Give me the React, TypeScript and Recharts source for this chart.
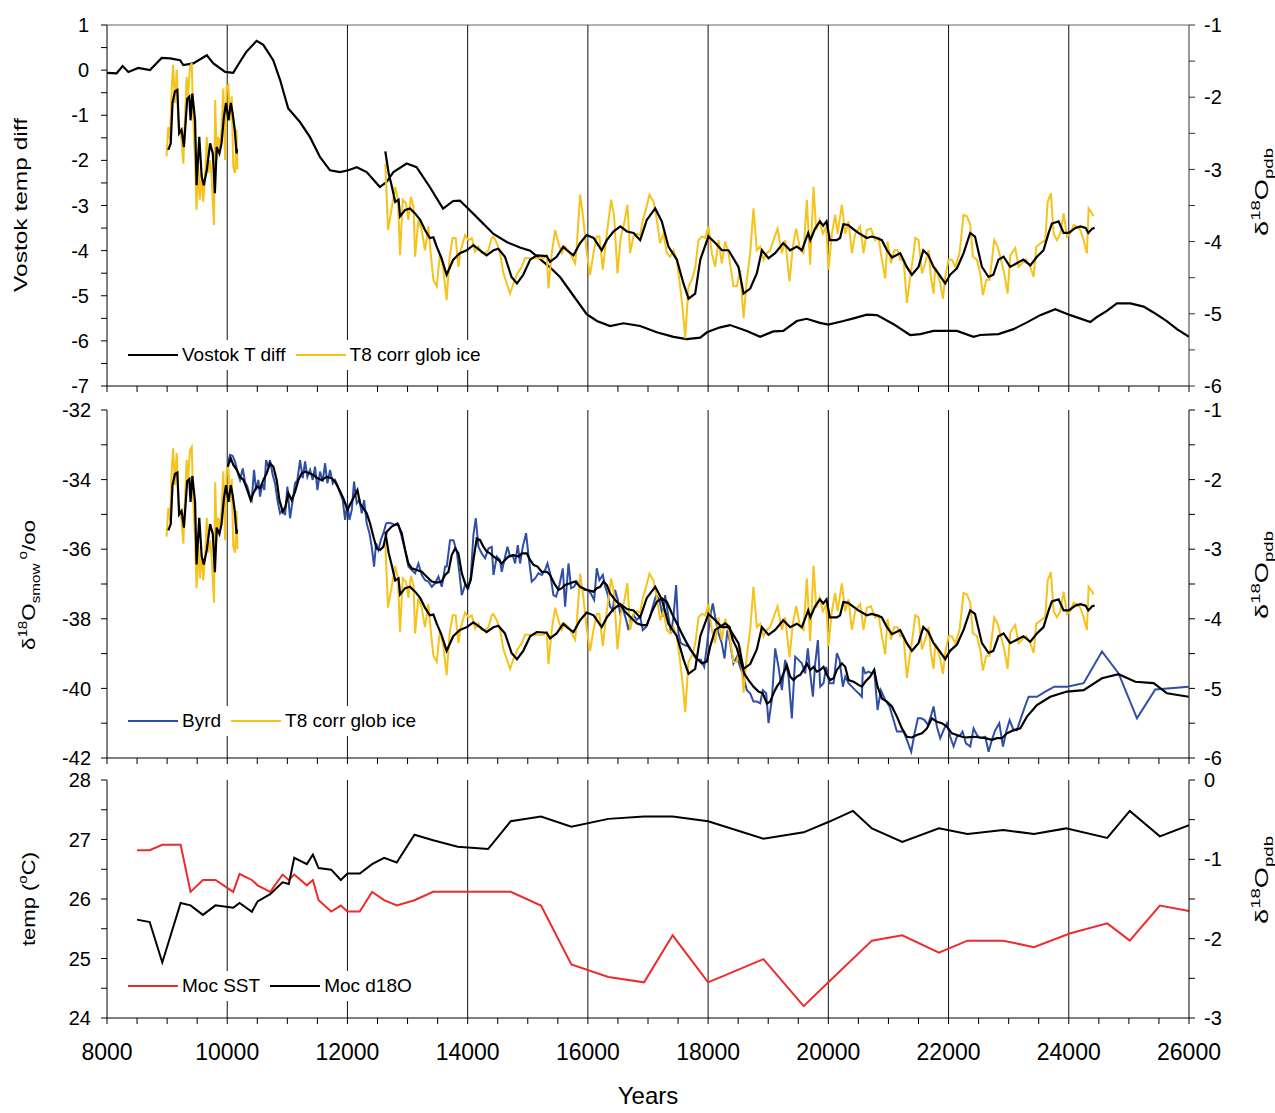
import React from "react";
import { Legend, Line, LineChart, ReferenceLine, XAxis, YAxis } from "recharts";

type Pt = [number, number];

const FONT = '"Liberation Sans", Arial, Helvetica, sans-serif';

// axis ticks
const xLabelYears = [8000, 10000, 12000, 14000, 16000, 18000, 20000, 22000, 24000, 26000];
const gridYears = [10000, 12000, 14000, 16000, 18000, 20000, 22000, 24000];
const steps = (from: number, to: number, step: number) => {
  const out: number[] = [];
  for (let v = from; v <= to + 1e-9; v += step) out.push(Math.round(v * 100) / 100);
  return out;
};
const xTicks = steps(8000, 26000, 500);

// Vostok temperature difference (deg C)
const vostok: Pt[] = [
  [8000, -0.06], [8160, -0.07], [8260, 0.09], [8355, -0.04], [8520, 0.05], [8715, 0.0], [8910, 0.27],
  [9050, 0.26], [9215, 0.22], [9270, 0.11], [9435, 0.15], [9660, 0.33], [9770, 0.15], [9965, -0.04],
  [10100, -0.06], [10210, 0.18], [10320, 0.41], [10490, 0.65], [10600, 0.56], [10765, 0.22], [10880, -0.22],
  [11015, -0.85], [11210, -1.15], [11375, -1.48], [11545, -1.93], [11710, -2.22], [11875, -2.26], [12015, -2.22],
  [12155, -2.15], [12320, -2.26], [12540, -2.59], [12650, -2.48], [12765, -2.26], [12985, -2.07], [13150, -2.15],
  [13370, -2.59], [13590, -3.07], [13760, -2.9], [13870, -2.89], [13985, -3.04], [14205, -3.33], [14430, -3.63],
  [14650, -3.81], [14870, -3.93], [15040, -4.0], [15205, -4.19], [15370, -4.37], [15540, -4.59], [15760, -5.0],
  [15980, -5.41], [16150, -5.56], [16370, -5.67], [16590, -5.61], [16870, -5.67], [17145, -5.81], [17425, -5.91],
  [17645, -5.96], [17870, -5.93], [17980, -5.81], [18200, -5.7], [18365, -5.65], [18645, -5.78], [18865, -5.91],
  [19085, -5.79], [19250, -5.78], [19475, -5.56], [19640, -5.51], [19860, -5.6], [20000, -5.64], [20250, -5.56],
  [20420, -5.5], [20640, -5.42], [20810, -5.43], [21085, -5.63], [21360, -5.87], [21530, -5.85], [21750, -5.78],
  [22140, -5.78], [22415, -5.91], [22525, -5.87], [22830, -5.85], [23080, -5.74], [23305, -5.59], [23525, -5.43],
  [23775, -5.3], [24025, -5.43], [24360, -5.58], [24470, -5.47], [24640, -5.33], [24800, -5.17], [25025, -5.17],
  [25245, -5.24], [25410, -5.37], [25630, -5.56], [25800, -5.74], [26000, -5.91],
];

// T8 corrected for global ice (d18O pdb), early and late sections
const t8Early: Pt[] = [
  [8990, -2.82], [9020, -2.41], [9050, -2.59], [9075, -1.9], [9100, -1.55], [9130, -2.08], [9160, -1.62],
  [9185, -2.27], [9215, -2.5], [9240, -2.59], [9270, -2.92], [9295, -2.32], [9325, -1.72], [9350, -1.99],
  [9380, -1.58], [9410, -1.53], [9435, -2.32], [9465, -2.87], [9490, -3.56], [9520, -2.96], [9545, -3.42],
  [9575, -3.05], [9600, -3.45], [9630, -3.15], [9660, -2.55], [9685, -3.05], [9715, -2.87], [9740, -3.1],
  [9780, -3.77], [9800, -2.04], [9825, -2.87], [9850, -2.55], [9880, -2.69], [9905, -2.45], [9935, -1.88],
  [9965, -2.87], [9990, -1.85], [10020, -1.83], [10045, -2.32], [10075, -1.99], [10100, -2.96], [10130, -3.05],
  [10155, -2.45], [10170, -3.0],
];
const t8Late: Pt[] = [
  [12630, -2.92], [12675, -3.84], [12740, -3.52], [12795, -3.24], [12840, -3.42], [12875, -4.19], [12920, -3.42],
  [12975, -3.47], [13015, -3.7], [13055, -3.38], [13100, -3.52], [13125, -4.21], [13180, -3.7], [13235, -3.84],
  [13290, -4.12], [13345, -3.79], [13385, -4.16], [13430, -4.53], [13485, -4.62], [13540, -4.16], [13595, -4.39],
  [13650, -4.81], [13700, -4.21], [13750, -3.95], [13800, -3.95], [13846, -4.35], [13885, -4.12], [13957, -3.91],
  [14012, -3.98], [14068, -3.95], [14123, -4.14], [14179, -4.07], [14234, -4.16], [14290, -4.16], [14345, -4.12],
  [14401, -3.95], [14429, -3.93], [14484, -4.02], [14539, -4.16], [14595, -4.44], [14650, -4.58], [14706, -4.72],
  [14761, -4.58], [14828, -4.44], [14900, -4.35], [14955, -4.23], [15039, -4.23], [15150, -4.23], [15261, -4.23],
  [15316, -4.19], [15344, -4.65], [15399, -4.16], [15455, -3.84], [15510, -4.02], [15566, -4.16], [15621, -4.07],
  [15677, -4.12], [15732, -4.21], [15788, -4.3], [15815, -4.07], [15871, -3.35], [15926, -3.7], [15982, -4.16],
  [16037, -4.46], [16093, -4.16], [16148, -3.93], [16192, -3.93], [16248, -4.39], [16315, -3.89], [16387, -3.42],
  [16437, -3.65], [16492, -4.44], [16548, -3.93], [16603, -3.75], [16658, -3.49], [16703, -4.16], [16758, -3.93],
  [16814, -3.89], [16869, -3.91], [16914, -3.7], [16969, -3.54], [17025, -3.35], [17091, -3.45], [17147, -3.7],
  [17202, -4.02], [17258, -3.89], [17313, -4.16], [17368, -4.21], [17424, -4.12], [17479, -4.25], [17535, -4.62],
  [17579, -4.95], [17618, -5.34], [17674, -4.62], [17729, -4.53], [17784, -4.37], [17840, -3.98], [17895, -3.93],
  [17951, -3.95], [18006, -3.79], [18062, -4.16], [18117, -4.35], [18173, -3.98], [18228, -4.3], [18284, -4.0],
  [18339, -4.16], [18422, -4.62], [18478, -4.62], [18533, -4.39], [18589, -5.06], [18644, -4.53], [18700, -4.16],
  [18755, -3.54], [18811, -4.12], [18866, -4.07], [18922, -4.25], [18977, -4.16], [19033, -4.12], [19088, -3.98],
  [19155, -3.82], [19227, -4.16], [19282, -3.98], [19354, -4.55], [19410, -4.07], [19465, -3.82], [19532, -4.12],
  [19587, -4.16], [19643, -3.42], [19698, -4.32], [19754, -3.24], [19798, -3.84], [19854, -3.7], [19909, -3.89],
  [19965, -3.79], [20003, -4.39], [20059, -3.89], [20114, -3.63], [20153, -3.89], [20225, -3.49], [20281, -3.89],
  [20336, -3.72], [20392, -4.16], [20447, -3.89], [20530, -3.79], [20586, -4.16], [20641, -3.84], [20708, -3.82],
  [20780, -3.98], [20836, -3.95], [20891, -4.25], [20946, -4.51], [20985, -4.0], [21041, -4.3], [21096, -4.12],
  [21152, -4.12], [21196, -4.25], [21252, -4.25], [21307, -4.85], [21363, -4.49], [21418, -4.16], [21446, -3.95],
  [21501, -3.98], [21557, -4.44], [21612, -4.3], [21668, -4.12], [21706, -4.49], [21751, -4.72], [21779, -4.35],
  [21817, -4.44], [21862, -4.58], [21906, -4.79], [21945, -4.49], [22000, -4.25], [22056, -4.25], [22111, -4.35],
  [22183, -4.16], [22250, -3.63], [22306, -3.65], [22361, -3.77], [22405, -4.21], [22472, -4.25], [22527, -4.44],
  [22572, -4.74], [22627, -4.53], [22683, -4.53], [22760, -3.98], [22816, -4.07], [22871, -4.25], [22927, -4.44],
  [22982, -4.72], [23027, -4.19], [23110, -4.09], [23165, -4.35], [23221, -4.3], [23293, -4.25], [23359, -4.35],
  [23415, -4.49], [23459, -4.07], [23537, -4.02], [23609, -3.98], [23648, -3.45], [23703, -3.33], [23748, -3.89],
  [23803, -3.98], [23859, -3.89], [23914, -3.61], [23970, -3.93], [24025, -3.89], [24081, -3.77], [24136, -3.79],
  [24192, -3.84], [24247, -3.98], [24302, -4.16], [24330, -3.54], [24386, -3.61], [24413, -3.65],
];

// running mean of T8
const t8SmoothEarly: Pt[] = [
  [9020, -2.73], [9060, -2.64], [9090, -2.08], [9130, -1.92], [9170, -1.9], [9200, -2.5], [9240, -2.45],
  [9280, -2.69], [9310, -2.32], [9335, -2.02], [9370, -1.99], [9390, -2.32], [9420, -1.95], [9465, -2.32],
  [9490, -3.22], [9535, -2.55], [9575, -3.1], [9610, -3.22], [9660, -3.01], [9715, -2.64], [9760, -2.78],
  [9795, -3.33], [9825, -2.69], [9870, -2.78], [9905, -2.64], [9945, -2.27], [9980, -2.08], [10020, -2.32],
  [10060, -2.08], [10090, -2.22], [10125, -2.45], [10155, -2.78], [10165, -2.72],
];
const t8SmoothLate: Pt[] = [
  [12630, -2.75], [12685, -3.05], [12740, -3.24], [12795, -3.45], [12850, -3.42], [12875, -3.65], [12960, -3.56],
  [13040, -3.54], [13125, -3.61], [13210, -3.7], [13290, -3.84], [13370, -3.95], [13430, -3.94], [13485, -4.07],
  [13565, -4.23], [13650, -4.46], [13760, -4.25], [13870, -4.16], [13985, -4.12], [14095, -4.05], [14205, -4.12],
  [14315, -4.19], [14430, -4.12], [14510, -4.1], [14620, -4.21], [14730, -4.49], [14820, -4.58], [14925, -4.46],
  [15040, -4.25], [15150, -4.19], [15315, -4.2], [15370, -4.28], [15480, -4.21], [15590, -4.07], [15650, -4.12],
  [15760, -4.19], [15870, -4.02], [15980, -3.91], [16095, -3.95], [16230, -4.12], [16315, -3.98], [16425, -3.86],
  [16540, -3.79], [16650, -3.86], [16760, -3.88], [16870, -3.98], [16980, -3.7], [17120, -3.54], [17230, -3.72],
  [17340, -4.07], [17480, -4.25], [17590, -4.58], [17675, -4.79], [17785, -4.72], [17870, -4.25], [18005, -3.93],
  [18120, -4.02], [18230, -4.12], [18340, -4.12], [18505, -4.35], [18590, -4.72], [18700, -4.65], [18810, -4.44],
  [18895, -4.12], [19005, -4.23], [19115, -4.16], [19250, -4.02], [19365, -4.12], [19475, -4.07], [19560, -4.12],
  [19665, -3.88], [19700, -3.98], [19780, -3.82], [19860, -3.72], [19915, -3.78], [19970, -3.72], [20025, -3.98],
  [20140, -3.98], [20195, -3.95], [20250, -3.76], [20330, -3.77], [20420, -3.83], [20500, -3.88], [20640, -3.95],
  [20720, -3.93], [20810, -3.95], [20890, -3.98], [20975, -4.12], [21060, -4.22], [21195, -4.16], [21305, -4.35],
  [21390, -4.46], [21500, -4.35], [21580, -4.12], [21665, -4.19], [21750, -4.35], [21830, -4.44], [21945, -4.58],
  [22025, -4.46], [22140, -4.37], [22250, -4.16], [22360, -3.88], [22440, -3.93], [22555, -4.35], [22665, -4.49],
  [22745, -4.46], [22830, -4.25], [22915, -4.21], [23025, -4.35], [23135, -4.3], [23245, -4.25], [23360, -4.33],
  [23470, -4.21], [23580, -4.12], [23665, -3.88], [23720, -3.75], [23830, -3.72], [23915, -3.88], [24000, -3.88],
  [24110, -3.81], [24195, -3.79], [24280, -3.81], [24325, -3.88], [24390, -3.82], [24430, -3.81],
];

// Byrd d18O smow (per mil)
const byrd: Pt[] = [
  [10008, -33.53], [10047, -33.29], [10091, -33.32], [10130, -33.48], [10169, -33.77], [10213, -34.01],
  [10258, -33.68], [10296, -34.06], [10335, -34.2], [10380, -34.49], [10407, -34.59], [10446, -33.72],
  [10480, -34.3], [10518, -34.01], [10546, -34.49], [10585, -34.11], [10618, -34.3], [10646, -33.44],
  [10685, -33.63], [10712, -33.44], [10757, -33.87], [10796, -34.11], [10835, -34.59], [10879, -34.97],
  [10923, -34.87], [10962, -35.02], [11001, -34.2], [11045, -35.11], [11090, -34.59], [11128, -34.11],
  [11167, -34.01], [11212, -33.44], [11256, -33.96], [11295, -33.48], [11334, -33.92], [11378, -33.72],
  [11422, -34.01], [11461, -33.63], [11500, -34.3], [11544, -33.77], [11589, -34.06], [11628, -33.53],
  [11667, -34.11], [11711, -33.72], [11755, -34.11], [11794, -34.01], [11833, -34.16], [11878, -34.39],
  [11922, -34.59], [11961, -35.16], [12000, -34.68], [12033, -35.16], [12072, -34.87], [12110, -34.06],
  [12155, -34.68], [12199, -34.59], [12238, -34.97], [12277, -34.59], [12321, -35.26], [12366, -35.54],
  [12404, -35.93], [12443, -36.5], [12476, -35.83], [12515, -36.02], [12554, -35.74], [12598, -35.54],
  [12643, -35.26], [12682, -35.24], [12737, -35.26], [12793, -35.3], [12848, -35.3], [12903, -35.64],
  [12959, -36.02], [13014, -36.5], [13070, -36.6], [13125, -36.69], [13181, -36.41], [13236, -36.74],
  [13292, -36.89], [13347, -36.93], [13403, -37.08], [13458, -36.98], [13514, -36.79], [13569, -37.08],
  [13625, -36.5], [13652, -36.5], [13707, -35.74], [13763, -35.74], [13818, -36.07], [13863, -36.69],
  [13902, -37.32], [13957, -37.03], [14012, -37.12], [14051, -36.79], [14096, -35.59], [14135, -35.11],
  [14179, -35.93], [14234, -36.12], [14290, -36.26], [14345, -35.98], [14401, -35.93], [14429, -36.74],
  [14484, -36.21], [14539, -36.31], [14567, -36.65], [14623, -36.21], [14662, -35.93], [14706, -36.21],
  [14750, -36.17], [14789, -36.41], [14834, -35.88], [14872, -36.41], [14917, -35.93], [14972, -35.54],
  [15011, -36.17], [15066, -36.93], [15122, -36.84], [15177, -36.69], [15233, -36.74], [15288, -36.6],
  [15327, -36.41], [15371, -36.69], [15427, -37.32], [15471, -37.36], [15527, -37.03], [15582, -36.55],
  [15621, -37.65], [15677, -36.41], [15721, -37.12], [15771, -37.08], [15815, -36.93], [15871, -37.08],
  [15937, -37.17], [15993, -37.17], [16048, -37.27], [16104, -37.46], [16148, -36.55], [16192, -36.89],
  [16248, -36.74], [16287, -37.08], [16326, -37.27], [16370, -37.65], [16414, -37.75], [16453, -37.17],
  [16498, -37.46], [16536, -37.84], [16581, -37.7], [16636, -38.03], [16675, -38.32], [16714, -38.03],
  [16758, -37.89], [16814, -38.03], [16869, -37.94], [16914, -38.32], [16969, -38.23], [17025, -37.99],
  [17080, -37.65], [17135, -37.32], [17191, -37.46], [17246, -37.94], [17285, -37.32], [17330, -37.84],
  [17385, -38.42], [17424, -37.94], [17468, -37.03], [17507, -38.42], [17546, -38.7], [17601, -38.75],
  [17674, -38.8], [17740, -38.99], [17812, -39.18], [17879, -39.18], [17934, -39.38], [17979, -38.8],
  [18034, -37.94], [18078, -37.56], [18117, -37.94], [18173, -38.42], [18228, -38.7], [18273, -39.14],
  [18322, -38.32], [18367, -38.7], [18422, -39.28], [18478, -39.09], [18533, -39.38], [18589, -39.66],
  [18644, -40.05], [18700, -40.14], [18755, -40.38], [18811, -40.38], [18866, -40.43], [18910, -40.05],
  [18966, -40.14], [19005, -41.0], [19060, -40.33], [19116, -38.85], [19171, -39.38], [19227, -40.05],
  [19282, -39.18], [19338, -39.66], [19393, -40.86], [19449, -39.09], [19504, -39.18], [19560, -39.28],
  [19615, -39.57], [19659, -38.85], [19698, -39.57], [19743, -40.24], [19782, -39.28], [19826, -38.61],
  [19865, -39.95], [19920, -39.85], [19965, -39.38], [20020, -39.85], [20087, -39.85], [20142, -38.99],
  [20187, -39.18], [20242, -39.95], [20281, -39.66], [20336, -39.85], [20392, -39.95], [20447, -40.05],
  [20503, -40.14], [20558, -40.24], [20575, -39.38], [20614, -39.57], [20669, -39.52], [20725, -39.57],
  [20763, -39.47], [20819, -40.62], [20874, -40.05], [20946, -40.33], [21018, -40.52], [21085, -40.91],
  [21141, -41.24], [21196, -41.24], [21252, -41.24], [21307, -41.48], [21379, -41.82], [21435, -41.29],
  [21490, -40.86], [21546, -40.86], [21601, -40.91], [21657, -41.05], [21712, -40.76], [21751, -40.52],
  [21806, -41.1], [21862, -41.43], [21917, -41.2], [21973, -41.0], [22028, -41.39], [22084, -41.67],
  [22139, -41.39], [22195, -41.34], [22233, -41.24], [22289, -41.58], [22361, -41.67], [22416, -41.15],
  [22472, -41.34], [22527, -41.43], [22611, -41.39], [22666, -41.82], [22721, -41.48], [22777, -41.2],
  [22844, -41.0], [22905, -41.67], [22960, -41.24], [23016, -40.91], [23082, -41.2], [23138, -41.2],
  [23193, -40.91], [23260, -40.57], [23332, -40.24], [23470, -40.24], [23609, -40.09], [23759, -39.95],
  [23970, -39.95], [24247, -39.85], [24552, -38.94], [24829, -39.57], [25134, -40.86], [25439, -40.03],
  [25994, -39.95],
];

// running mean of Byrd
const byrdSmooth: Pt[] = [
  [10008, -33.63], [10058, -33.39], [10102, -33.58], [10158, -33.72], [10213, -33.92], [10269, -34.01],
  [10324, -34.25], [10391, -34.59], [10435, -34.39], [10491, -34.2], [10546, -34.25], [10602, -34.01],
  [10657, -33.82], [10712, -33.53], [10768, -33.63], [10823, -34.01], [10868, -34.59], [10923, -34.92],
  [10968, -34.78], [11018, -34.39], [11073, -34.59], [11128, -34.35], [11184, -34.01], [11239, -33.82],
  [11295, -33.77], [11367, -33.82], [11434, -33.87], [11500, -33.96], [11572, -34.01], [11656, -33.92],
  [11739, -33.96], [11794, -34.06], [11866, -34.3], [11933, -34.54], [12000, -34.87], [12055, -34.68],
  [12110, -34.49], [12166, -34.3], [12210, -34.68], [12266, -34.83], [12321, -34.97], [12377, -35.26],
  [12432, -35.64], [12487, -35.98], [12543, -36.02], [12598, -35.93], [12654, -35.5], [12737, -35.35],
  [12832, -35.26], [12903, -35.54], [12959, -36.02], [13014, -36.41], [13070, -36.55], [13153, -36.6],
  [13236, -36.65], [13320, -36.79], [13403, -36.93], [13486, -36.96], [13569, -36.93], [13624, -36.74],
  [13680, -36.65], [13735, -36.17], [13791, -35.98], [13846, -36.12], [13902, -36.69], [13957, -36.98],
  [13996, -37.12], [14051, -36.89], [14096, -36.31], [14151, -35.69], [14207, -35.74], [14262, -35.93],
  [14318, -36.07], [14373, -36.12], [14429, -36.21], [14512, -36.31], [14567, -36.41], [14623, -36.31],
  [14678, -36.21], [14761, -36.17], [14845, -36.21], [14900, -36.12], [14983, -36.12], [15039, -36.31],
  [15094, -36.45], [15161, -36.5], [15233, -36.65], [15316, -36.65], [15371, -36.74], [15438, -36.98],
  [15510, -37.17], [15566, -37.12], [15621, -37.03], [15704, -36.98], [15788, -36.93], [15871, -37.08],
  [15982, -37.17], [16093, -37.22], [16148, -37.12], [16204, -37.08], [16259, -36.93], [16315, -37.03],
  [16370, -37.27], [16453, -37.46], [16536, -37.6], [16620, -37.8], [16703, -37.94], [16814, -38.13],
  [16897, -38.18], [16980, -38.18], [17063, -37.8], [17147, -37.51], [17230, -37.41], [17313, -37.51],
  [17396, -37.84], [17479, -38.13], [17562, -38.42], [17646, -38.7], [17729, -38.94], [17812, -39.14],
  [17895, -39.28], [17979, -39.23], [18034, -38.8], [18117, -38.32], [18200, -38.23], [18284, -38.13],
  [18356, -38.23], [18411, -38.61], [18478, -38.85], [18533, -39.18], [18600, -39.57], [18672, -39.76],
  [18755, -39.95], [18838, -40.09], [18910, -40.14], [18977, -40.43], [19033, -40.38], [19088, -40.14],
  [19143, -39.95], [19199, -39.81], [19254, -39.57], [19310, -39.33], [19365, -39.66], [19421, -39.76],
  [19476, -39.66], [19532, -39.61], [19587, -39.47], [19643, -39.28], [19698, -39.47], [19754, -39.38],
  [19809, -39.52], [19865, -39.47], [19920, -39.38], [19976, -39.61], [20031, -39.76], [20087, -39.71],
  [20142, -39.47], [20225, -39.28], [20281, -39.38], [20336, -39.76], [20420, -39.81], [20503, -39.9],
  [20558, -39.95], [20614, -39.81], [20697, -39.66], [20763, -39.47], [20819, -39.95], [20891, -40.29],
  [20974, -40.38], [21057, -40.52], [21141, -40.81], [21224, -41.15], [21307, -41.39], [21390, -41.41],
  [21473, -41.34], [21557, -41.29], [21640, -41.15], [21723, -40.86], [21806, -40.96], [21889, -41.0],
  [21973, -41.1], [22056, -41.29], [22139, -41.34], [22222, -41.39], [22306, -41.41], [22416, -41.39],
  [22527, -41.41], [22611, -41.43], [22721, -41.48], [22805, -41.43], [22888, -41.43], [22971, -41.29],
  [23082, -41.2], [23193, -41.15], [23304, -40.81], [23470, -40.48], [23692, -40.24], [23970, -40.09],
  [24247, -40.05], [24552, -39.71], [24829, -39.59], [25107, -39.81], [25412, -39.85], [25634, -40.14],
  [25994, -40.24],
];

// Moc sea surface temperature (deg C)
const mocSst: Pt[] = [
  [8500, 26.82], [8710, 26.82], [8920, 26.91], [9225, 26.91], [9390, 26.12], [9595, 26.32], [9805, 26.32],
  [10100, 26.12], [10205, 26.42], [10410, 26.32], [10505, 26.23], [10715, 26.12], [10920, 26.41], [11025, 26.32],
  [11115, 26.41], [11325, 26.23], [11425, 26.32], [11520, 25.98], [11730, 25.79], [11890, 25.89], [12000, 25.79],
  [12205, 25.79], [12410, 26.12], [12610, 25.98], [12820, 25.89], [13115, 25.98], [13425, 26.12], [14715, 26.12],
  [15220, 25.89], [15725, 24.9], [16340, 24.69], [16935, 24.6], [17410, 25.39], [18000, 24.6], [18920, 24.99],
  [19590, 24.2], [20000, 24.6], [20725, 25.3], [21230, 25.39], [21840, 25.1], [22315, 25.3], [22910, 25.3],
  [23420, 25.19], [24015, 25.42], [24640, 25.59], [25015, 25.3], [25515, 25.89], [26000, 25.8],
];

// Moc d18O (pdb)
const mocD18O: Pt[] = [
  [8500, -1.76], [8710, -1.79], [8920, -2.3], [9225, -1.55], [9390, -1.58], [9595, -1.7], [9805, -1.58],
  [10100, -1.61], [10205, -1.55], [10410, -1.66], [10505, -1.53], [10715, -1.44], [10920, -1.29], [11025, -1.31],
  [11115, -0.98], [11325, -1.06], [11425, -0.94], [11520, -1.11], [11730, -1.13], [11890, -1.26], [12000, -1.18],
  [12205, -1.18], [12410, -1.06], [12610, -0.98], [12820, -1.04], [13115, -0.69], [13425, -0.76], [13835, -0.84],
  [14340, -0.87], [14715, -0.52], [15220, -0.46], [15725, -0.59], [16340, -0.49], [16935, -0.46], [17410, -0.46],
  [18000, -0.52], [18920, -0.74], [19590, -0.66], [20000, -0.53], [20410, -0.39], [20725, -0.61], [21230, -0.78],
  [21840, -0.61], [22315, -0.68], [22910, -0.63], [23420, -0.68], [23955, -0.61], [24640, -0.73], [25015, -0.39],
  [25515, -0.71], [26000, -0.57],
];

const rows = (pts: Pt[]) => pts.map(([year, v]) => ({ year, v }));

const BLACK = "#000000";
const GOLD = "#F6C21C";
const BLUE = "#2F4FA6";
const RED = "#EE2B2B";

const tickFont = { fontSize: 20, fill: "#000", fontFamily: FONT };
const intOnly = (v: number) => (Number.isInteger(v) ? String(v) : "");
const evenOnly = (v: number) => (v % 2 === 0 ? String(v) : "");

type LegendItem = { name: string; color: string };

function LegendBox({ items }: { items: LegendItem[] }) {
  return (
    <div
      style={{
        background: "#fff",
        display: "flex",
        alignItems: "center",
        padding: "4px 8px",
        whiteSpace: "nowrap",
        fontSize: 19,
        fontFamily: FONT,
        color: "#000",
      }}
    >
      {items.map((it) => (
        <span key={it.name} style={{ display: "inline-flex", alignItems: "center", marginRight: 10 }}>
          <svg width={50} height={4} style={{ display: "block" }}>
            <line x1={0} y1={2} x2={50} y2={2} stroke={it.color} strokeWidth={2.2} />
          </svg>
          <span style={{ marginLeft: 4 }}>{it.name}</span>
        </span>
      ))}
    </div>
  );
}

const xAxisBase = {
  xAxisId: 0,
  type: "number" as const,
  dataKey: "year",
  domain: [8000, 26000],
  ticks: xTicks,
  allowDataOverflow: true,
  interval: 0 as const,
  tickSize: 6,
  axisLine: { stroke: "#000" },
  tickLine: { stroke: "#000" },
};

const lineBase = {
  type: "linear" as const,
  dataKey: "v",
  dot: false,
  activeDot: false,
  isAnimationActive: false,
  xAxisId: 0,
};

const gridLines = (id: string) =>
  gridYears.map((yr) => (
    <ReferenceLine key={yr} x={yr} yAxisId={id} xAxisId={0} stroke="#111" strokeWidth={1} />
  ));

function Title({ x, y, len, children }: { x: number; y: number; len: number; children: React.ReactNode }) {
  return (
    <text
      transform={`translate(${x},${y}) rotate(-90)`}
      textAnchor="middle"
      fontSize={19}
      fontFamily={FONT}
      textLength={len}
      lengthAdjust="spacingAndGlyphs"
      fill="#000"
    >
      {children}
    </text>
  );
}

function PdbTitle({ x, y }: { x: number; y: number }) {
  return (
    <Title x={x} y={y} len={88}>
      δ
      <tspan dy={-8} fontSize={13}>
        18
      </tspan>
      <tspan dy={8}>O</tspan>
      <tspan dy={5} fontSize={13}>
        pdb
      </tspan>
    </Title>
  );
}

export default function App() {
  const W = 1275;
  return (
    <div
      style={{
        position: "absolute",
        left: 0,
        top: 0,
        width: W,
        height: 1113,
        background: "#fff",
        fontFamily: FONT,
      }}
    >
      {/* Vostok panel */}
      <div style={{ position: "absolute", left: 0, top: 0 }}>
        <LineChart width={W} height={400} margin={{ top: 25, right: 0, bottom: 0, left: 0 }}>
          <XAxis {...xAxisBase} height={14} tickFormatter={() => ""} />
          <YAxis
            yAxisId="l"
            width={107}
            domain={[-7, 1]}
            ticks={steps(-7, 1, 0.5)}
            interval={0}
            tickFormatter={intOnly}
            tick={tickFont}
            tickSize={6}
            tickMargin={12}
            axisLine={{ stroke: "#000" }}
            tickLine={{ stroke: "#000" }}
            allowDataOverflow
          />
          <YAxis
            yAxisId="r"
            orientation="right"
            width={86}
            domain={[-6, -1]}
            ticks={steps(-6, -1, 0.5)}
            interval={0}
            tickFormatter={intOnly}
            tick={tickFont}
            tickSize={6}
            tickMargin={9}
            axisLine={{ stroke: "#333" }}
            tickLine={{ stroke: "#333" }}
            allowDataOverflow
          />
          <ReferenceLine y={1} yAxisId="l" xAxisId={0} stroke="#999" strokeWidth={1.5} />
          {gridLines("l")}
          <Line {...lineBase} yAxisId="l" data={rows(vostok)} name="Vostok T diff" stroke={BLACK} strokeWidth={2.2} />
          <Line {...lineBase} yAxisId="r" data={rows(t8Early)} name="T8 corr glob ice" stroke={GOLD} strokeWidth={2} />
          <Line {...lineBase} yAxisId="r" data={rows(t8Late)} name="T8 late" legendType="none" stroke={GOLD} strokeWidth={2} />
          <Line {...lineBase} yAxisId="r" data={rows(t8SmoothEarly)} name="T8 mean" legendType="none" stroke={BLACK} strokeWidth={2.2} />
          <Line {...lineBase} yAxisId="r" data={rows(t8SmoothLate)} name="T8 mean late" legendType="none" stroke={BLACK} strokeWidth={2.2} />
          <Legend
            layout="horizontal"
            align="center"
            verticalAlign="middle"
            wrapperStyle={{ left: 120, top: 340, width: "auto", height: "auto" }}
            content={() => (
              <LegendBox
                items={[
                  { name: "Vostok T diff", color: BLACK },
                  { name: "T8 corr glob ice", color: GOLD },
                ]}
              />
            )}
          />
        </LineChart>
      </div>

      {/* Byrd panel */}
      <div style={{ position: "absolute", left: 0, top: 390 }}>
        <LineChart width={W} height={380} margin={{ top: 20, right: 0, bottom: 0, left: 0 }}>
          <XAxis {...xAxisBase} height={12} tickFormatter={() => ""} />
          <YAxis
            yAxisId="l"
            width={107}
            domain={[-42, -32]}
            ticks={steps(-42, -32, 1)}
            interval={0}
            tickFormatter={evenOnly}
            tick={tickFont}
            tickSize={6}
            tickMargin={10}
            axisLine={{ stroke: "#000" }}
            tickLine={{ stroke: "#000" }}
            allowDataOverflow
          />
          <YAxis
            yAxisId="r"
            orientation="right"
            width={86}
            domain={[-6, -1]}
            ticks={steps(-6, -1, 0.5)}
            interval={0}
            tickFormatter={intOnly}
            tick={tickFont}
            tickSize={6}
            tickMargin={9}
            axisLine={{ stroke: "#000" }}
            tickLine={{ stroke: "#000" }}
            allowDataOverflow
          />
          {gridLines("l")}
          <Line {...lineBase} yAxisId="l" data={rows(byrd)} name="Byrd" stroke={BLUE} strokeWidth={2} />
          <Line {...lineBase} yAxisId="r" data={rows(t8Early)} name="T8 corr glob ice" stroke={GOLD} strokeWidth={2} />
          <Line {...lineBase} yAxisId="r" data={rows(t8Late)} name="T8 late" legendType="none" stroke={GOLD} strokeWidth={2} />
          <Line {...lineBase} yAxisId="l" data={rows(byrdSmooth)} name="Byrd mean" legendType="none" stroke={BLACK} strokeWidth={2.2} />
          <Line {...lineBase} yAxisId="r" data={rows(t8SmoothEarly)} name="T8 mean" legendType="none" stroke={BLACK} strokeWidth={2.2} />
          <Line {...lineBase} yAxisId="r" data={rows(t8SmoothLate)} name="T8 mean late" legendType="none" stroke={BLACK} strokeWidth={2.2} />
          <Legend
            layout="horizontal"
            align="center"
            verticalAlign="middle"
            wrapperStyle={{ left: 120, top: 316, width: "auto", height: "auto" }}
            content={() => (
              <LegendBox
                items={[
                  { name: "Byrd", color: BLUE },
                  { name: "T8 corr glob ice", color: GOLD },
                ]}
              />
            )}
          />
        </LineChart>
      </div>

      {/* Moc panel */}
      <div style={{ position: "absolute", left: 0, top: 760 }}>
        <LineChart width={W} height={353} margin={{ top: 20, right: 0, bottom: 0, left: 0 }}>
          <XAxis
            {...xAxisBase}
            height={95}
            tickFormatter={(v: number) => (xLabelYears.includes(v) ? String(v) : "")}
            tick={{ fontSize: 23, fill: "#000", fontFamily: FONT }}
            tickMargin={20}
            label={{ value: "Years", position: "insideBottom", offset: 9, style: { fontSize: 24, fill: "#000", fontFamily: FONT } }}
          />
          <YAxis
            yAxisId="l"
            width={107}
            domain={[24, 28]}
            ticks={steps(24, 28, 0.5)}
            interval={0}
            tickFormatter={intOnly}
            tick={tickFont}
            tickSize={6}
            tickMargin={10}
            axisLine={{ stroke: "#000" }}
            tickLine={{ stroke: "#000" }}
            allowDataOverflow
          />
          <YAxis
            yAxisId="r"
            orientation="right"
            width={86}
            domain={[-3, 0]}
            ticks={steps(-3, 0, 0.5)}
            interval={0}
            tickFormatter={intOnly}
            tick={tickFont}
            tickSize={6}
            tickMargin={9}
            axisLine={{ stroke: "#000" }}
            tickLine={{ stroke: "#000" }}
            allowDataOverflow
          />
          {gridLines("l")}
          <Line {...lineBase} yAxisId="l" data={rows(mocSst)} name="Moc SST" stroke={RED} strokeWidth={2} />
          <Line {...lineBase} yAxisId="r" data={rows(mocD18O)} name="Moc d18O" stroke={BLACK} strokeWidth={2} />
          <Legend
            layout="horizontal"
            align="center"
            verticalAlign="middle"
            wrapperStyle={{ left: 120, top: 211, width: "auto", height: "auto" }}
            content={() => (
              <LegendBox
                items={[
                  { name: "Moc SST", color: RED },
                  { name: "Moc d18O", color: BLACK },
                ]}
              />
            )}
          />
        </LineChart>
      </div>

      {/* axis titles */}
      <svg
        width={W}
        height={1113}
        style={{ position: "absolute", left: 0, top: 0, pointerEvents: "none" }}
      >
        <Title x={27} y={205} len={174}>
          Vostok temp diff
        </Title>
        <Title x={35} y={585} len={130}>
          δ
          <tspan dy={-8} fontSize={13}>
            18
          </tspan>
          <tspan dy={8}>O</tspan>
          <tspan dy={5} fontSize={13}>
            smow
          </tspan>
          <tspan dy={-13} fontSize={13}>
            {" o"}
          </tspan>
          <tspan dy={8}>/oo</tspan>
        </Title>
        <Title x={35} y={899} len={94}>
          temp (
          <tspan dy={-8} fontSize={13}>
            o
          </tspan>
          <tspan dy={8}>C)</tspan>
        </Title>
        <PdbTitle x={1268} y={192} />
        <PdbTitle x={1268} y={575} />
        <PdbTitle x={1268} y={880} />
      </svg>
    </div>
  );
}
